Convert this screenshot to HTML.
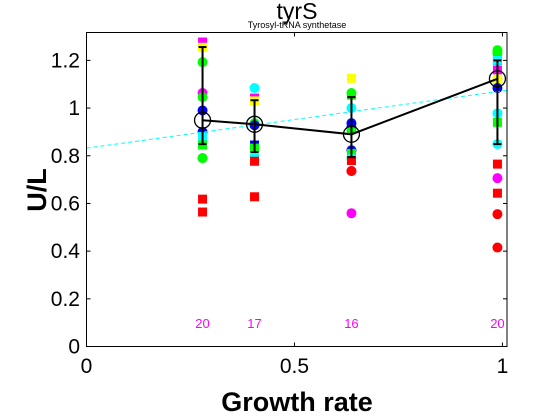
<!DOCTYPE html>
<html><head><meta charset="utf-8"><style>
body{margin:0;background:#fff}
svg{display:block;font-family:"Liberation Sans",sans-serif}
</style></head><body>
<svg id="chart" width="560" height="420" viewBox="0 0 560 420">
<rect width="560" height="420" fill="#fff"/>
<g id="marks"></g>
<rect x="86.5" y="32.5" width="420.5" height="314" fill="none" stroke="#000" stroke-width="1"/>
<g id="axes"></g>
<text x="297" y="19" font-size="23" text-anchor="middle">tyrS</text>
<text x="297" y="28" font-size="9" text-anchor="middle">Tyrosyl-tRNA synthetase</text>
<text x="297" y="411" font-size="27" font-weight="bold" text-anchor="middle">Growth rate</text>
<text transform="translate(46,190) rotate(-90)" font-size="27" font-weight="bold" text-anchor="middle">U/L</text>
</svg>
<script>
const groupX=[0.279,0.404,0.637,0.988];
const means=[0.949,0.932,0.89,1.123];
const errHi=[1.256,1.033,1.046,1.2];
const errLo=[0.849,0.815,0.794,0.849];
const counts=["20","17","16","20"];
const fitIntercept=0.832, fitSlope=0.24;
const xTicks=[0,0.5,1];
const yTicks=[0,0.2,0.4,0.6,0.8,1,1.2];
const yTickLabels=["0","0.2","0.4","0.6","0.8","1","1.2"];
const pointGroup=[0,0,0,0,0,0,0,0,0,0,0,0,0, 1,1,1,1,1,1,1,1,1,1, 2,2,2,2,2,2,2,2,2,2,2,2,2,2, 3,3,3,3,3,3,3,3,3,3,3,3,3,3,3,3];
const pointVal=[1.277,1.255,1.193,1.063,1.046,0.99,0.90,0.88,0.845,0.79,0.79,0.618,0.564,
1.084,1.042,1.03,0.937,0.928,0.845,0.832,0.79,0.777,0.628,
1.125,1.063,1.054,1.0,0.937,0.92,0.906,0.823,0.81,0.79,0.78,0.736,0.736,0.559,
1.243,1.23,1.2,1.2,1.16,1.123,1.105,1.084,0.978,0.94,0.849,0.765,0.706,0.643,0.555,0.415];
const pointColor=["#f0f","#ff0","#0f0","#f0f","#0f0","#00f","#00f","#0ff","#0f0","#f0f","#0f0","#f00","#f00",
"#0ff","#f0f","#ff0","#0f0","#00f","#00f","#0f0","#0ff","#f00","#f00",
"#ff0","#0f0","#0f0","#0ff","#00f","#00f","#0f0","#00f","#0f0","#0ff","#f00","#f0f","#f00","#f0f",
"#0f0","#0f0","#00f","#0ff","#f0f","#ff0","#ff0","#00f","#0ff","#0f0","#0ff","#f00","#f0f","#f00","#f00","#f00"];
const pointShape=["s","s","c","c","c","c","c","s","s","c","c","s","s",
"c","s","s","c","c","s","s","s","s","s",
"s","c","s","c","c","c","c","c","s","c","s","c","c","c",
"c","c","s","s","s","c","c","c","c","s","c","s","c","s","c","c"];
const X0=86.5,X1=507,XMAX=1.011,Y0=346.5,Y1=32.5,YMAX=1.317;
const sx=v=>X0+v/XMAX*(X1-X0), sy=v=>Y0-v/YMAX*(Y0-Y1);
const NS="http://www.w3.org/2000/svg";
function mk(tag,attrs,parent){const e=document.createElementNS(NS,tag);for(const k in attrs)e.setAttribute(k,attrs[k]);parent.appendChild(e);return e;}
const marks=document.getElementById('marks'), axes=document.getElementById('axes');
for(let i=0;i<pointVal.length;i++){
  const cx=sx(groupX[pointGroup[i]]), cy=sy(pointVal[i]);
  let el;
  if(pointShape[i]==="s") el=mk('rect',{x:cx-4.5,y:cy-4.5,width:9,height:9,fill:pointColor[i]},marks);
  else el=mk('circle',{cx:cx,cy:cy,r:5,fill:pointColor[i]},marks);
  
  
}
const fit=mk('line',{x1:sx(0),y1:sy(fitIntercept),x2:sx(XMAX),y2:sy(fitIntercept+fitSlope*XMAX),stroke:"#0ff","stroke-width":1,"stroke-dasharray":"4,3"},marks);


const ml=mk('polyline',{points:groupX.map((x,i)=>sx(x)+","+sy(means[i])).join(" "),fill:"none",stroke:"#000","stroke-width":2},marks);


for(let i=0;i<groupX.length;i++){
  const x=sx(groupX[i]);
  const g=mk('g',{stroke:"#000","stroke-width":2},marks);
  
  
  mk('line',{x1:x,y1:sy(errHi[i]),x2:x,y2:sy(errLo[i])},g);
  mk('line',{x1:x-4,y1:sy(errHi[i]),x2:x+4,y2:sy(errHi[i])},g);
  mk('line',{x1:x-4,y1:sy(errLo[i]),x2:x+4,y2:sy(errLo[i])},g);
  const c=mk('circle',{cx:x,cy:sy(means[i]),r:8,fill:"none",stroke:"#000","stroke-width":1.3},marks);
  
  
  const t=mk('text',{x:x,y:328,"font-size":13,fill:"#f0f","text-anchor":"middle"},marks);
  t.textContent=counts[i];
  
  
}
xTicks.forEach((v,i)=>{
  const x=sx(v);
  mk('line',{x1:x,y1:Y0,x2:x,y2:Y0-4,stroke:"#000"},axes);
  mk('line',{x1:x,y1:Y1,x2:x,y2:Y1+4,stroke:"#000"},axes);
  const t=mk('text',{x:x,y:373,"font-size":21,"text-anchor":"middle"},axes);
  t.textContent=String(v);
  
  
});
yTicks.forEach((v,i)=>{
  const y=sy(v);
  mk('line',{x1:X0,y1:y,x2:X0+4,y2:y,stroke:"#000"},axes);
  mk('line',{x1:X1,y1:y,x2:X1-4,y2:y,stroke:"#000"},axes);
  const t=mk('text',{x:80,y:y+7,"font-size":21,"text-anchor":"end"},axes);
  t.textContent=yTickLabels[i];
  
  
});
</script>
</body></html>
